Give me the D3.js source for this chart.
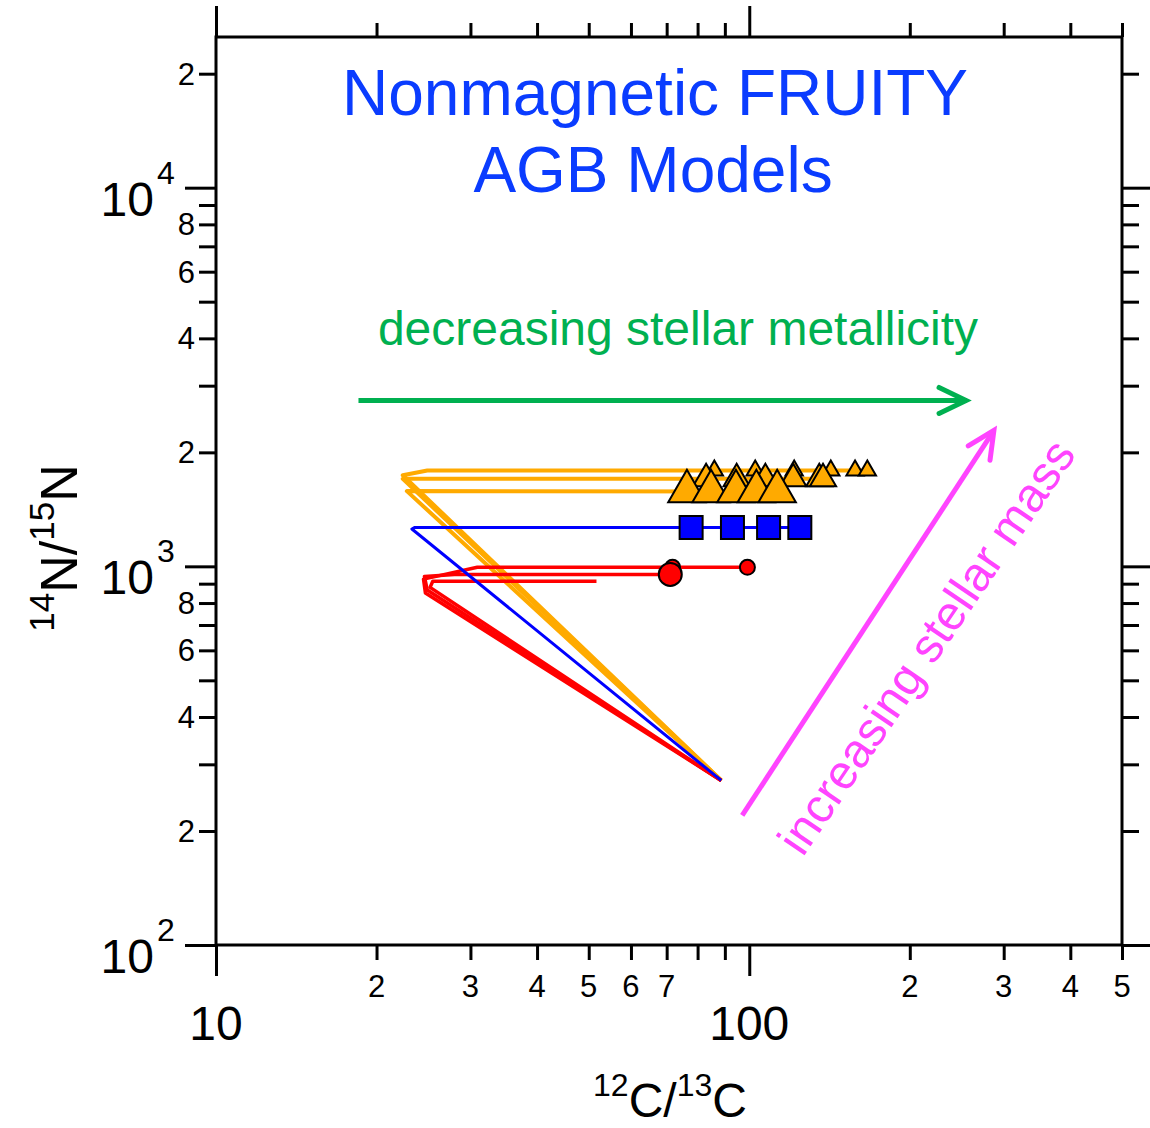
<!DOCTYPE html>
<html><head><meta charset="utf-8">
<script src="https://cdn.jsdelivr.net/npm/d3@7"></script>
<style>
body{margin:0;background:#fff}
text{font-family:"Liberation Sans",Arial,Helvetica,sans-serif}
</style>
</head><body>
<svg id="chart" width="1150" height="1128"></svg>
<script>
// Axes: 12C/13C (x) and 14N/15N (y), both logarithmic
const xDomain = [10, 500];
const yDomain = [100, 25000];
const xMajorTicks = [10, 100];
const xMinorTicks = [20, 30, 40, 50, 60, 70, 80, 90, 200, 300, 400, 500];
const xMinorLabels = [[20,"2"],[30,"3"],[40,"4"],[50,"5"],[60,"6"],[70,"7"],[200,"2"],[300,"3"],[400,"4"],[500,"5"]];
const xMajorLabels = [[10,"10"],[100,"100"]];
const yMajorTicks = [100, 1000, 10000];
const yMinorTicks = [200,300,400,500,600,700,800,900,2000,3000,4000,5000,6000,7000,8000,9000,20000];
const yMinorLabels = [[200,"2"],[400,"4"],[600,"6"],[800,"8"],[2000,"2"],[4000,"4"],[6000,"6"],[8000,"8"],[20000,"2"]];
const yMajorLabels = [[100,"2"],[1000,"3"],[10000,"4"]];

// Model tracks [12C/13C, 14N/15N]; all start from the initial composition
const orangeTrackA = [[88.6,272],[22.4,1740],[24.9,1792],[166.5,1792]];
const orangeTrackB = [[88.6,272],[22.4,1703],[137.5,1703]];
const orangeTrackC = [[88.6,272],[22.8,1580],[112.8,1577]];
const blueTrack    = [[88.6,272],[23.3,1255],[23.6,1267],[124.4,1267]];
const redTrackA    = [[88.6,272],[24.7,850],[24.5,925],[30.9,994],[99.2,994]];
const redTrackB    = [[88.6,272],[24.9,866],[24.6,940],[28.0,952],[71.1,952]];
const redTrackC    = [[88.6,272],[25.2,880],[25.5,913],[51.7,913]];

// Markers along the final parts of the tracks
const orangeSmallC = [86.0,102.6,121.4,142.2,157.9,166.5];
const orangeSmallN = 1792;
const orangeMidC   = [83.0,94.7,107.2,120.9,135.3,137.5];
const orangeMidN   = 1703;
const orangeBigC   = [76.4,84.8,94.4,103.1,112.8];
const orangeBigN   = 1577;
const blueSquareC  = [77.8,93.0,108.7,124.4];
const blueSquareN  = 1267;
const redSmallDots = [[71.8,994],[99.2,994]];
const redBigDots   = [[71.1,952]];

// Trend arrows, in data units
const metallicityArrow = [[18.5,2742],[255,2742]];
const massArrow        = [[97.0,220],[287.6,2285]];

const svg = d3.select("#chart");
const x = d3.scaleLog().domain(xDomain).range([216,1122]);
const y = d3.scaleLog().domain(yDomain).range([945,37]);

const line = d3.line().x(d => x(d[0])).y(d => y(d[1]));

// ---------- model tracks ----------
const tracks = svg.append("g").attr("fill","none").attr("stroke-linejoin","round");
[orangeTrackA, orangeTrackB, orangeTrackC].forEach(t =>
  tracks.append("path").attr("d", line(t)).attr("stroke","#ffaa00").attr("stroke-width",4));
[redTrackA, redTrackB, redTrackC].forEach(t =>
  tracks.append("path").attr("d", line(t)).attr("stroke","#ff0000").attr("stroke-width",3.5));
tracks.append("path").attr("d", line(blueTrack)).attr("stroke","#0000ff").attr("stroke-width",3);

// ---------- markers ----------
const mk = svg.append("g").attr("stroke","#000").attr("stroke-width",2);
function tri(cs, n, area){
  cs.forEach(c => mk.append("path")
    .attr("d", d3.symbol(d3.symbolTriangle, area)())
    .attr("transform", `translate(${x(c)},${y(n)})`)
    .attr("fill","#ffaa00"));
}
tri(orangeSmallC, orangeSmallN, 130);
tri(orangeMidC, orangeMidN, 297);
tri(orangeBigC, orangeBigN, 606);
blueSquareC.forEach(c => mk.append("path")
  .attr("d", d3.symbol(d3.symbolSquare, 529)())
  .attr("transform", `translate(${x(c)},${y(blueSquareN)})`)
  .attr("fill","#0000ff"));
redSmallDots.forEach(d => mk.append("circle").attr("cx",x(d[0])).attr("cy",y(d[1])).attr("r",7.5).attr("fill","#ff0000"));
redBigDots.forEach(d => mk.append("circle").attr("cx",x(d[0])).attr("cy",y(d[1])).attr("r",11.5).attr("fill","#ff0000"));

// ---------- frame and ticks ----------
const axG = svg.append("g");
function ticks(axisFn, scale, vals, len, tr){
  const g = axG.append("g").attr("transform", tr)
    .call(axisFn(scale).tickValues(vals).tickSize(len).tickFormat(""));
  g.select(".domain").remove();
  g.selectAll(".tick line").attr("stroke","#000").attr("stroke-width",3);
}
ticks(d3.axisBottom, x, xMajorTicks, 31, "translate(0,945)");
ticks(d3.axisBottom, x, xMinorTicks, 15, "translate(0,945)");
ticks(d3.axisTop, x, xMajorTicks, 31, "translate(0,37)");
ticks(d3.axisTop, x, xMinorTicks, 14, "translate(0,37)");
ticks(d3.axisLeft, y, yMajorTicks, 31, "translate(216,0)");
ticks(d3.axisLeft, y, yMinorTicks, 17, "translate(216,0)");
ticks(d3.axisRight, y, yMajorTicks, 30, "translate(1122,0)");
ticks(d3.axisRight, y, yMinorTicks, 17, "translate(1122,0)");
axG.append("rect").attr("x",216).attr("y",37).attr("width",1122-216).attr("height",945-37)
  .attr("fill","none").attr("stroke","#000").attr("stroke-width",3);

// ---------- tick labels ----------
const lab = svg.append("g").attr("fill","#000");
xMinorLabels.forEach(([v,t]) => lab.append("text").attr("x",x(v)).attr("y",997)
  .attr("text-anchor","middle").attr("font-size",31).text(t));
xMajorLabels.forEach(([v,t]) => lab.append("text").attr("x",x(v)).attr("y",1040)
  .attr("text-anchor","middle").attr("font-size",48).text(t));
yMinorLabels.forEach(([v,t]) => lab.append("text").attr("x",195).attr("y",y(v)+11)
  .attr("text-anchor","end").attr("font-size",31).text(t));
yMajorLabels.forEach(([v,e]) => {
  lab.append("text").attr("x",154).attr("y",y(v)+28).attr("text-anchor","end").attr("font-size",48).text("10");
  lab.append("text").attr("x",157).attr("y",y(v)-4).attr("font-size",32).text(e);
});

// ---------- axis titles ----------
const xt = svg.append("text").attr("x",670).attr("y",1117).attr("text-anchor","middle").attr("font-size",48);
xt.append("tspan").attr("font-size",32).attr("dy",-21).text("12");
xt.append("tspan").attr("dy",21).text("C/");
xt.append("tspan").attr("font-size",32).attr("dy",-21).text("13");
xt.append("tspan").attr("dy",21).text("C");

const yt = svg.append("text").attr("transform","translate(77,548) rotate(-90)")
  .attr("text-anchor","middle").attr("font-size",52);
yt.append("tspan").attr("font-size",35).attr("dy",-23).text("14");
yt.append("tspan").attr("dy",23).text("N/");
yt.append("tspan").attr("font-size",35).attr("dy",-23).text("15");
yt.append("tspan").attr("dy",23).text("N");

// ---------- title ----------
svg.append("text").attr("x",655).attr("y",115).attr("text-anchor","middle")
  .attr("font-size",64).attr("fill","#0a3cff").text("Nonmagnetic FRUITY");
svg.append("text").attr("x",653).attr("y",192).attr("text-anchor","middle")
  .attr("font-size",64).attr("fill","#0a3cff").text("AGB Models");

// ---------- trend arrows ----------
function arrow(pts, color){
  const p0 = [x(pts[0][0]), y(pts[0][1])], p1 = [x(pts[1][0]), y(pts[1][1])];
  const a = Math.atan2(p1[1]-p0[1], p1[0]-p0[0]);
  const back = 27, half = 13;
  const h1 = [p1[0]-back*Math.cos(a)+half*Math.sin(a), p1[1]-back*Math.sin(a)-half*Math.cos(a)];
  const h2 = [p1[0]-back*Math.cos(a)-half*Math.sin(a), p1[1]-back*Math.sin(a)+half*Math.cos(a)];
  const g = svg.append("g").attr("stroke",color).attr("stroke-width",5).attr("fill","none");
  g.append("path").attr("d", d3.line()([p0, [p1[0]-2*Math.cos(a), p1[1]-2*Math.sin(a)]]));
  g.append("path").attr("d", d3.line()([h1, p1, h2])).attr("stroke-linejoin","miter").attr("stroke-linecap","round");
}
arrow(metallicityArrow, "#00b050");
arrow(massArrow, "#ff44ff");

svg.append("text").attr("x",678).attr("y",345).attr("text-anchor","middle")
  .attr("font-size",48).attr("fill","#00b050").text("decreasing stellar metallicity");
svg.append("text").attr("transform","translate(940,656) rotate(-55.8)").attr("text-anchor","middle")
  .attr("font-size",48).attr("fill","#ff44ff").text("increasing stellar mass");
</script>
</body></html>
